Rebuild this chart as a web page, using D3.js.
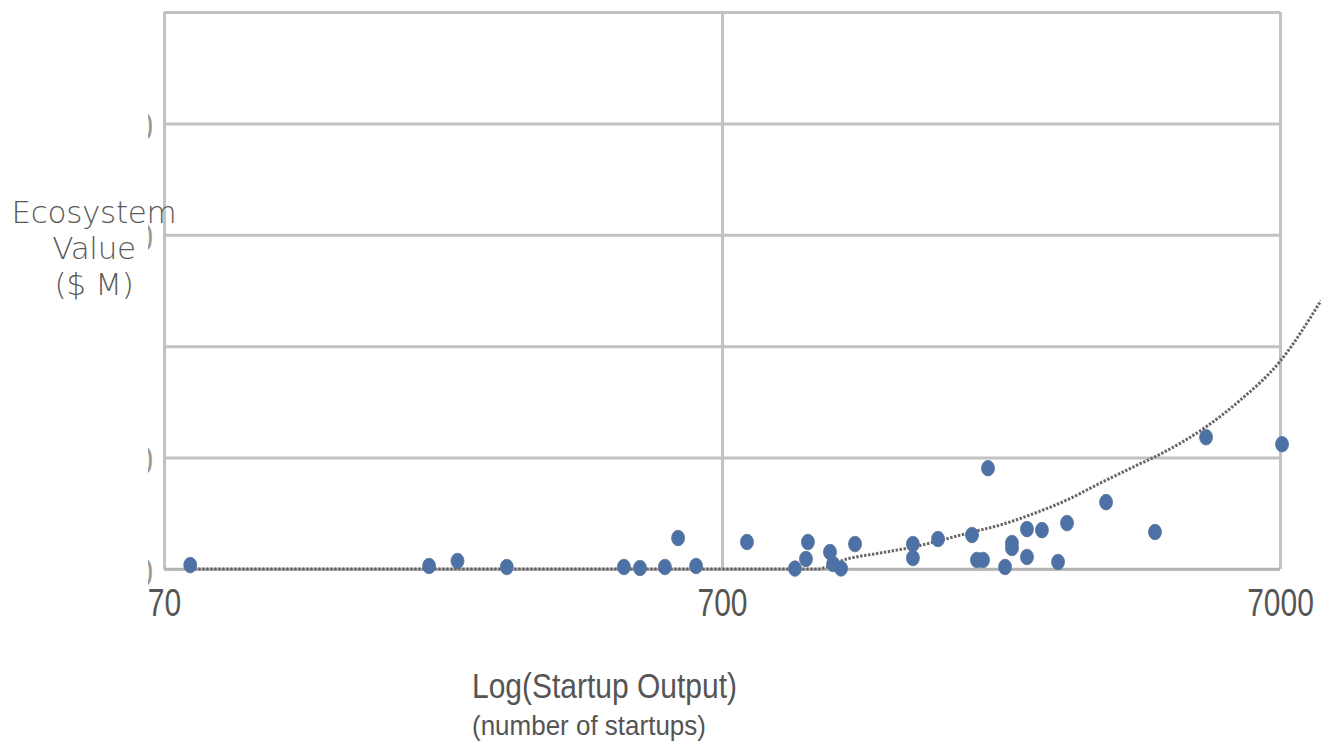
<!DOCTYPE html>
<html>
<head>
<meta charset="utf-8">
<script src="https://cdn.jsdelivr.net/npm/d3@7"></script>
<style>
  html, body { margin: 0; padding: 0; background: #fff; }
  svg { display: block; }
</style>
</head>
<body>
<svg id="chart" width="1321" height="747"></svg>
<script>
// ---------- data ----------
const startups = [78, 209, 235, 288, 467, 499, 553, 584, 629, 776, 946, 990, 998, 1093, 1107, 1144,
  1212, 1539, 1539, 1707, 1964, 2005, 2055, 2098, 2251, 2316, 2316, 2464, 2464, 2621, 2801, 2907,
  3415, 4179, 5159, 7059];
const ecoValues = [350, 270, 720, 180, 180, 90, 180, 2780, 270, 2420, 40, 900, 2420, 1520, 450, 50,
  2240, 2240, 990, 2690, 3050, 810, 810, 9050, 180, 2330, 1880, 3580, 1080, 3490, 630, 4120,
  6000, 3320, 11830, 11200];

// dotted trend line
const trendX = [78, 1036, 1172, 1344, 1539, 1964, 2204, 2526, 2907, 3331, 3817, 4267, 5137, 5936, 7000, 8291];
const trendY = [0, 0, 896, 1434, 1971, 3315, 3942, 4950, 6200, 7700, 9150, 10300, 12700, 15142, 18637, 24102];

const xTicks = [70, 700, 7000];
const yGrid = [0, 10000, 20000, 30000, 40000, 50000];
const yLabelTicks = [0, 10000, 30000, 40000];   // only these label fragments show in the reference

const xTitle = "Log(Startup Output)";
const xSubtitle = "(number of startups)";
const yTitleLines = ["Ecosystem", "Value", "($ M)"];

// ---------- layout ----------
const L = 164, R = 1280, T = 12, B = 569;
const svg = d3.select("#chart");

const x = d3.scaleLog().domain([70, 7000]).range([L, R]);
const y = d3.scaleLinear().domain([0, 50000]).range([B, T]);

svg.append("defs").append("clipPath").attr("id", "leftclip")
  .append("rect").attr("x", 148).attr("y", 0).attr("width", 1321 - 148).attr("height", 747);

const g = svg.append("g").attr("clip-path", "url(#leftclip)");

const gridColor = "#c2c2c2";
const textColor = "#555";

// horizontal grid lines
const yAxis = g.append("g")
  .attr("transform", `translate(${L},0)`)
  .call(d3.axisLeft(y).tickValues(yGrid).tickSize(-(R - L)).tickFormat(""));
yAxis.select(".domain").remove();
yAxis.selectAll(".tick line").attr("stroke", gridColor).attr("stroke-width", 3);

// y tick labels (clipped at the left edge, as in the reference)
const yLab = g.append("g")
  .attr("transform", `translate(${L},0)`)
  .call(d3.axisLeft(y).tickValues(yLabelTicks).tickSize(0).tickFormat(d3.format("d")));
yLab.select(".domain").remove();
yLab.selectAll(".tick text")
  .attr("x", 0).attr("y", 0).attr("dy", null)
  .attr("transform", "translate(-11,16) scale(1,1.3)")
  .attr("fill", "#999")
  .style("font-family", "'Liberation Sans', Arial, sans-serif")
  .style("font-size", "30px");

// x axis (vertical grid lines + labels)
const xAxis = g.append("g")
  .attr("transform", `translate(0,${B})`)
  .call(d3.axisBottom(x).tickValues(xTicks).tickSize(-(B - T)).tickFormat(d3.format("d")));
xAxis.select(".domain").remove();
xAxis.selectAll(".tick line").attr("stroke", gridColor).attr("stroke-width", 3);
xAxis.selectAll(".tick text")
  .attr("x", 0).attr("y", 0).attr("dy", null)
  .attr("transform", "translate(0,47) scale(1,1.3)")
  .attr("fill", textColor)
  .style("font-family", "'Liberation Sans', Arial, sans-serif")
  .style("font-size", "30px");

// bottom axis line slightly darker
g.append("line").attr("x1", L).attr("x2", R).attr("y1", y(0)).attr("y2", y(0))
  .attr("stroke", "#b4b4b4").attr("stroke-width", 2.5);

// trend line
const trend = trendX.map((d, i) => [d, trendY[i]]);
g.append("path")
  .datum(trend)
  .attr("fill", "none")
  .attr("stroke", "#666")
  .attr("stroke-width", 3)
  .attr("stroke-dasharray", "2.4,1.6")
  .attr("d", d3.line().x(d => x(d[0])).y(d => y(d[1])).curve(d3.curveMonotoneX));

// points
g.append("g").selectAll("ellipse")
  .data(startups.map((d, i) => [d, ecoValues[i]]))
  .join("ellipse")
  .attr("cx", d => x(d[0]))
  .attr("cy", d => y(d[1]))
  .attr("rx", 6.5)
  .attr("ry", 7.8)
  .attr("fill", "#4c71a7")
  .attr("stroke", "#5d7596")
  .attr("stroke-width", 0.8);

// x axis titles
svg.append("text")
  .attr("transform", "translate(472,698) scale(1,1.16)")
  .attr("fill", textColor)
  .style("font-family", "'Liberation Sans', Arial, sans-serif")
  .style("font-size", "30px")
  .text(xTitle);
svg.append("text")
  .attr("transform", "translate(472,735) scale(1,1.05)")
  .attr("fill", textColor)
  .style("font-family", "'Liberation Sans', Arial, sans-serif")
  .style("font-size", "26px")
  .text(xSubtitle);

// y axis title
const yt = svg.append("text")
  .attr("text-anchor", "middle")
  .attr("fill", "#5a5a5a")
  .style("font-family", "'DejaVu Sans', sans-serif")
  .style("font-weight", "200")
  .style("font-size", "31px")
  .style("letter-spacing", "-0.3px");
yTitleLines.forEach((t, i) => {
  yt.append("tspan").attr("x", 94).attr("y", 223 + i * 36).text(t);
});
</script>
</body>
</html>
